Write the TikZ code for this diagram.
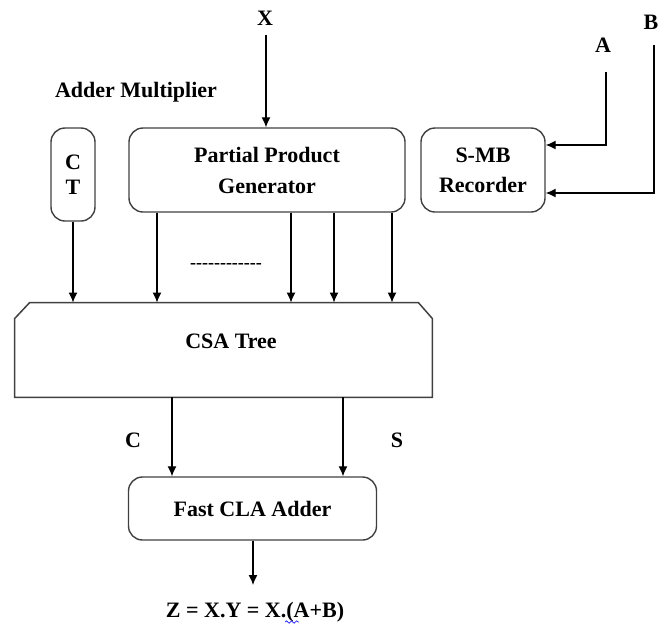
\documentclass[tikz,border=0pt]{standalone}
\usepackage{fontspec}
\setmainfont{Liberation Serif}
\usetikzlibrary{arrows.meta,decorations.pathmorphing}
\begin{document}
\begin{tikzpicture}[x=0.5pt,y=-0.5pt,
  every node/.style={font=\fontsize{11}{15.5}\selectfont\bfseries},
  box/.style={draw=black!75, line width=0.7pt, rounded corners=7pt, align=center, inner sep=0pt},
  lbl/.style={inner sep=1pt},
  arr/.style={line width=0.65pt, -{Latex[length=5pt,width=4.5pt]}},
  ln/.style={line width=0.65pt}]
\path[use as bounding box] (0,0) rectangle (668,633);

% top labels
\node[lbl] (X) at (265,18) {X};
\node[lbl] (A) at (603,45) {A};
\node[lbl] (B) at (651,22) {B};
\node[lbl] (title) at (136,92) {Adder Multiplier};

% boxes
\node[box, minimum width=22pt, minimum height=46.5pt] (ct) at (73,174.5) {C\\[-3pt]T};
\node[box, minimum width=138pt, minimum height=42pt] (ppg) at (267,170) {Partial Product\\Generator};
\node[box, minimum width=62pt, minimum height=42pt] (smb) at (483,170) {S-MB\\[-0.5pt]Recorder};

% CSA tree
\node[minimum width=208.5pt, minimum height=47pt, inner sep=0pt] (csa) at (223.5,350) {};
\draw[draw=black!75, line width=0.75pt]
  ([yshift=-8pt]csa.north west) -- ([xshift=7.5pt]csa.north west)
  -- ([xshift=-7pt]csa.north east) -- ([yshift=-8pt]csa.north east)
  -- (csa.south east) -- (csa.south west) -- cycle;
\node[lbl] (csatext) at (231,341) {CSA Tree};

\node[box, minimum width=124pt, minimum height=31.5pt] (cla) at (252.5,508.5) {Fast CLA Adder};

\node[lbl] (C) at (133,440) {C};
\node[lbl] (S) at (397,440) {S};
\node[lbl, font=\fontsize{9}{10}\selectfont\bfseries] (dots) at (226,266) {-{}-{}-{}-{}-{}-{}-{}-{}-{}-{}-{}-};

\node[lbl] (Z) at (255,612) {Z = X.Y = X.(A+B)};

% coordinates
\coordinate (x0) at (266,35);
\coordinate (a0) at (606,72);
\coordinate (b0) at (654,45);
\coordinate (zend) at (253,585);

% connectors
\draw[arr] (x0) -- (ppg.north -| x0);
\draw[arr] (a0) |- (smb.east |- 0,145);
\draw[arr] (b0) |- (smb.east |- 0,193);
\draw[arr] (ct.south) -- (csa.north -| ct.south);
\foreach \xx in {157,291,334,392}{
  \draw[arr] (ppg.south -| \xx,0) -- (csa.north -| \xx,0);
}
\draw[arr] (csa.south -| 172,0) -- (cla.north -| 172,0);
\draw[arr] (csa.south -| 343,0) -- (cla.north -| 343,0);
\draw[arr] (cla.south -| zend) -- (zend);

% spelling squiggle under the dot
\draw[blue!80, line width=0.4pt, decorate, decoration={snake, amplitude=0.6pt, segment length=2.5pt}] (285,622) -- (299,622);
\end{tikzpicture}
\end{document}
